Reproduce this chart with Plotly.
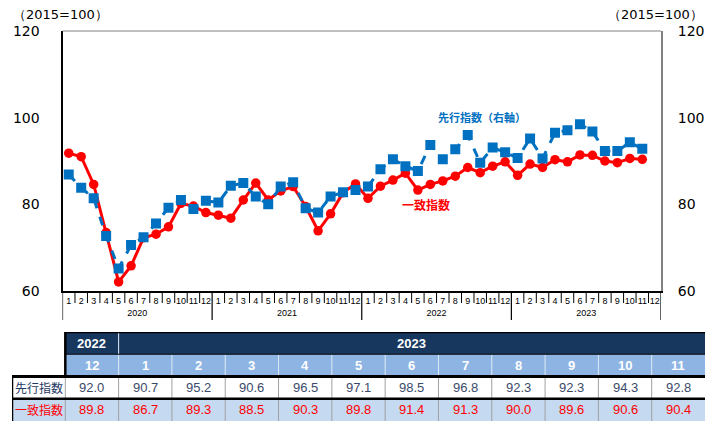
import plotly.graph_objects as go

# ---------------- data ----------------
years = ["2020", "2021", "2022", "2023"]
month_labels = [str(m) for m in range(1, 13)]

leading_2020 = [86.9, 83.8, 81.4, 72.7, 65.2, 70.6, 72.4, 75.6, 79.2, 81.0, 78.9, 80.8]
leading_2021 = [80.4, 84.3, 84.9, 81.8, 80.0, 84.1, 85.1, 79.1, 78.1, 81.8, 82.8, 83.3]
leading_2022 = [84.1, 88.1, 90.4, 88.8, 87.7, 93.7, 90.4, 92.7, 96.0, 89.6, 93.1, 92.0]
leading_2023 = [90.7, 95.2, 90.6, 96.5, 97.1, 98.5, 96.8, 92.3, 92.3, 94.3, 92.8]

coincident_2020 = [91.8, 91.0, 84.6, 73.5, 62.1, 65.8, 72.3, 73.1, 74.8, 80.2, 79.6, 78.1]
coincident_2021 = [77.5, 76.8, 81.0, 84.9, 81.0, 83.1, 84.1, 79.5, 73.9, 77.8, 82.7, 84.7]
coincident_2022 = [81.4, 84.2, 85.6, 87.2, 83.3, 84.6, 85.4, 86.5, 88.5, 87.3, 88.8, 89.8]
coincident_2023 = [86.7, 89.3, 88.5, 90.3, 89.8, 91.4, 91.3, 90.0, 89.6, 90.6, 90.4]

y_ticks = [60, 80, 100, 120]

table_years = ["2022", "2023"]
table_months = ["12", "1", "2", "3", "4", "5", "6", "7", "8", "9", "10", "11"]
table_leading = ["92.0", "90.7", "95.2", "90.6", "96.5", "97.1", "98.5", "96.8", "92.3", "92.3", "94.3", "92.8"]
table_coincident = ["89.8", "86.7", "89.3", "88.5", "90.3", "89.8", "91.4", "91.3", "90.0", "89.6", "90.6", "90.4"]

# ---------------- build ----------------
x_year = [y for y in years for _ in month_labels]
x_month = [m for _ in years for m in month_labels]
n = len(x_month)

leading = leading_2020 + leading_2021 + leading_2022 + leading_2023
coincident = coincident_2020 + coincident_2021 + coincident_2022 + coincident_2023
leading = leading + [None] * (n - len(leading))
coincident = coincident + [None] * (n - len(coincident))

BLUE = "#0070C0"
RED = "#FF0000"
NAVY = "#17375E"
HDR_BLUE = "#8DB4E2"
ROW_BLUE = "#C5D9F1"
FONT = "DejaVu Sans, Liberation Sans, sans-serif"
SMALL = "Liberation Sans, Arial, sans-serif"
NARROW = "Liberation Sans Narrow, Arial Narrow, Liberation Sans, sans-serif"

fig = go.Figure()
fig.add_trace(go.Scatter(
    x=[x_year, x_month], y=coincident, mode="lines+markers",
    line=dict(color=RED, width=3), marker=dict(symbol="circle", size=9.5, color=RED),
    showlegend=False, xaxis="x", yaxis="y"))
fig.add_trace(go.Scatter(
    x=[x_year, x_month], y=leading, mode="lines+markers",
    line=dict(color=BLUE, width=3, dash="dash"),
    marker=dict(symbol="square", size=10, color=BLUE),
    showlegend=False, xaxis="x", yaxis="y2"))

W, H = 705, 421
ML, MR, MT, MB = 12, 0, 31, 0
pw = W - ML - MR
ph = H - MT - MB
chart_left, chart_right = 62.5, 661
chart_bottom = 291
x_dom = [(chart_left - ML) / pw, (chart_right - ML) / pw]
y_dom = [(H - MB - chart_bottom) / ph, 1]
dom_h = chart_bottom - MT
table_top = 332
t_dom = [0, (H - MB - table_top) / ph]

shapes = []
# month separators & year separators below the axis
for i in range(0, n + 1):
    is_year = (i % 12 == 0)
    shapes.append(dict(type="line", xref="x", yref="y domain",
                       x0=i - 0.5, x1=i - 0.5, y0=0,
                       y1=-(29 if is_year else 12) / dom_h,
                       line=dict(color="black", width=1.2 if is_year else 1)))
# top border of the plot
shapes.append(dict(type="line", xref="x domain", yref="y domain", x0=0, x1=1, y0=1, y1=1,
                   line=dict(color="#808080", width=1)))

def px_ann(text, cx, cy, font):
    return dict(text=text, xref="paper", yref="paper", x=(cx - ML) / pw, y=(H - MB - cy) / ph,
                xanchor="center", yanchor="middle", showarrow=False, font=font)

annotations = [
    px_ann("（2015=100）", 60, 15, dict(family=FONT, size=13, color="black")),
    px_ann("（2015=100）", 655, 15, dict(family=FONT, size=13, color="black")),
    px_ann("<b>先行指数（右軸）</b>", 482, 117, dict(family="Noto Sans CJK JP", size=11, color=BLUE)),
    px_ann("<b>一致指数</b>", 426, 204, dict(family="Noto Sans CJK JP", size=12, color=RED)),
]

# ---------------- table (x3/y3: column index, row index) ----------------
ncol = len(table_months) + 1
def cell(c0, c1, r0, r1, fill):
    shapes.append(dict(type="rect", xref="x3", yref="y3", x0=c0, x1=c1, y0=r0, y1=r1,
                       fillcolor=fill, line=dict(width=0), layer="below"))

cell(1, 2, 3, 4, NAVY)
cell(2, ncol, 3, 4, NAVY)
annotations.append(dict(text="<b>" + table_years[0] + "</b>", xref="x3", yref="y3", x=1.5, y=3.5,
                        showarrow=False, font=dict(family=NARROW, size=13, color="white")))
annotations.append(dict(text="<b>" + table_years[1] + "</b>", xref="x3", yref="y3", x=(2 + ncol) / 2,
                        y=3.5, showarrow=False, font=dict(family=NARROW, size=13, color="white")))
for j, m in enumerate(table_months):
    c = j + 1
    cell(c, c + 1, 2, 3, HDR_BLUE)
    annotations.append(dict(text="<b>" + m + "</b>", xref="x3", yref="y3", x=c + 0.5, y=2.5,
                            showarrow=False, font=dict(family=NARROW, size=13, color="white")))
cell(0, ncol, 1, 2, "white")
cell(0, ncol, 0, 1, ROW_BLUE)
annotations.append(dict(text="先行指数", xref="x3", yref="y3", x=0.5, y=1.5, showarrow=False,
                        font=dict(family="Noto Sans CJK JP", size=12, color="#1F3864")))
annotations.append(dict(text="一致指数", xref="x3", yref="y3", x=0.5, y=0.5, showarrow=False,
                        font=dict(family="Noto Sans CJK JP", size=12, color=RED)))
for j, (a, b) in enumerate(zip(table_leading, table_coincident)):
    c = j + 1
    annotations.append(dict(text=a, xref="x3", yref="y3", x=c + 0.5, y=1.5, showarrow=False,
                            font=dict(family=NARROW, size=13, color="#3B4A6B")))
    annotations.append(dict(text=b, xref="x3", yref="y3", x=c + 0.5, y=0.5, showarrow=False,
                            font=dict(family=NARROW, size=13, color=RED)))
for c in range(2, ncol):
    shapes.append(dict(type="line", xref="x3", yref="y3", x0=c, x1=c, y0=0, y1=2,
                       line=dict(color="#A0A0A0", width=1)))
    shapes.append(dict(type="line", xref="x3", yref="y3", x0=c, x1=c, y0=2, y1=3,
                       line=dict(color="#DDE8F5", width=1)))
shapes.append(dict(type="line", xref="x3", yref="y3", x0=1, x1=1, y0=0, y1=2,
                   line=dict(color="#A0A0A0", width=1)))
shapes.append(dict(type="line", xref="x3", yref="y3", x0=2, x1=2, y0=3, y1=4,
                   line=dict(color="#DDE8F5", width=1)))
shapes.append(dict(type="line", xref="x3", yref="y3", x0=1, x1=ncol, y0=4, y1=4,
                   line=dict(color="black", width=2.5)))
shapes.append(dict(type="line", xref="x3", yref="y3", x0=1, x1=ncol, y0=3, y1=3,
                   line=dict(color="black", width=1)))
shapes.append(dict(type="line", xref="x3", yref="y3", x0=0, x1=ncol, y0=2, y1=2,
                   line=dict(color="black", width=3)))
shapes.append(dict(type="line", xref="x3", yref="y3", x0=0, x1=ncol, y0=1, y1=1,
                   line=dict(color="black", width=2.5)))
shapes.append(dict(type="line", xref="x3", yref="y3", x0=1, x1=1, y0=2, y1=4,
                   line=dict(color="black", width=2.5)))
shapes.append(dict(type="line", xref="x3", yref="y3", x0=0, x1=0, y0=0, y1=2,
                   line=dict(color="black", width=2.5)))

fig.update_layout(
    width=W, height=H, margin=dict(l=ML, r=MR, t=MT, b=MB, autoexpand=False),
    paper_bgcolor="white", plot_bgcolor="rgba(0,0,0,0)",
    xaxis=dict(type="multicategory", domain=x_dom, anchor="y", showgrid=False,
               showline=True, linecolor="black", linewidth=1.5, ticks="",
               showdividers=False, tickangle=0, automargin=False,
               tickfont=dict(family=SMALL, size=9, color="black"),
               range=[-0.5, n - 0.5], fixedrange=True),
    yaxis=dict(domain=y_dom, range=[60, 120], tickvals=y_ticks, showgrid=False,
               showline=True, linecolor="black", linewidth=2, ticks="", zeroline=False,
               ticklabelstandoff=18, automargin=False,
               tickfont=dict(family=FONT, size=14, color="black"),
               anchor="x", fixedrange=True),
    yaxis2=dict(overlaying="y", side="right", range=[60, 120], tickvals=y_ticks,
                showgrid=False, showline=True, linecolor="#808080", linewidth=2, ticks="",
                zeroline=False, ticklabelstandoff=12, automargin=False,
                tickfont=dict(family=FONT, size=14, color="black"), anchor="x", fixedrange=True),
    xaxis3=dict(domain=[0, 1], range=[0, ncol], visible=False, anchor="y3", fixedrange=True),
    yaxis3=dict(domain=t_dom, range=[0, 4], visible=False, anchor="x3", fixedrange=True),
    shapes=shapes, annotations=annotations,
)

fig.write_html("out.html", config={"displayModeBar": False},
               post_script="document.body.style.margin='0';document.body.style.overflow='hidden';")
